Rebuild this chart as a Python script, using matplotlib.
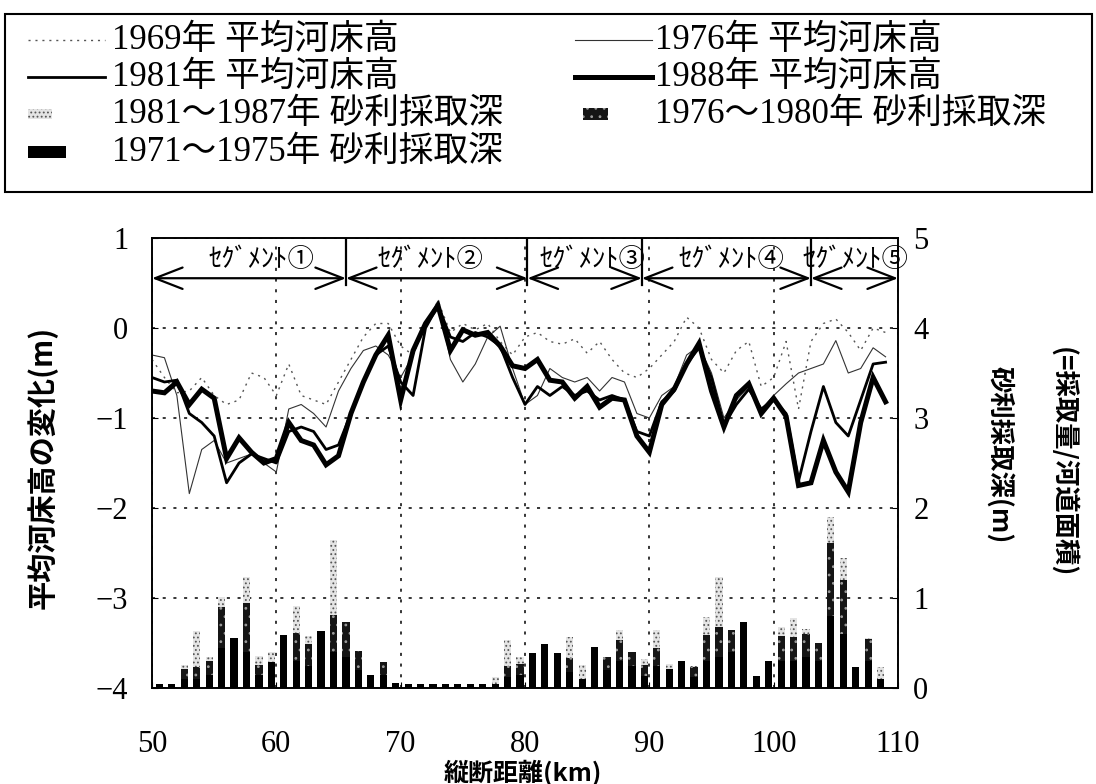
import numpy as np
import matplotlib
matplotlib.use("Agg")
import matplotlib.pyplot as plt
from matplotlib.lines import Line2D
from matplotlib.patches import Rectangle

plt.rcParams['font.family'] = ['Liberation Serif', 'Noto Sans CJK JP']
plt.rcParams['hatch.linewidth'] = 0.8

# ---- data ----
km = np.arange(50, 110)  # 1 km survey points, 50 .. 109

bed_1969 = [-0.35, -0.55, -0.72, -0.70, -0.55, -0.75, -0.85, -0.80, -0.50, -0.55,
            -0.75, -0.40, -0.75, -0.80, -0.85, -0.60, -0.35, -0.10, 0.05, 0.05,
            -0.20, -0.30, 0.05, 0.30, -0.05, 0.05, -0.02, 0.05, -0.15, -0.30,
            -0.10, -0.05, -0.15, -0.18, -0.12, -0.28, -0.15, -0.35, -0.50, -0.55,
            -0.45, -0.30, -0.15, 0.12, 0.00, -0.35, -0.50, -0.25, -0.15, -0.65,
            -0.55, -0.15, -0.90, -0.15, 0.05, 0.10, -0.05, -0.25, 0.00, -0.05]
bed_1976 = [-0.30, -0.33, -0.75, -1.84, -1.35, -1.25, -1.50, -1.45, -1.40, -1.50,
            -1.60, -0.90, -0.85, -0.95, -1.10, -0.70, -0.45, -0.25, -0.20, -0.30,
            -0.55, -0.30, 0.05, 0.30, -0.35, -0.60, -0.40, -0.10, 0.02, -0.45,
            -0.85, -0.75, -0.45, -0.55, -0.60, -0.55, -0.70, -0.55, -0.60, -0.95,
            -1.00, -0.75, -0.65, -0.30, -0.20, -0.50, -1.00, -0.80, -0.65, -0.90,
            -0.75, -0.62, -0.50, -0.45, -0.40, -0.14, -0.50, -0.45, -0.22, -0.32]
bed_1981 = [-0.55, -0.60, -0.58, -0.95, -1.05, -1.20, -1.72, -1.50, -1.40, -1.45,
            -1.50, -1.15, -1.10, -1.15, -1.35, -1.30, -0.95, -0.60, -0.30, -0.20,
            -0.60, -0.75, 0.00, 0.25, -0.10, -0.15, -0.05, -0.10, -0.20, -0.55,
            -0.85, -0.65, -0.75, -0.65, -0.75, -0.70, -0.80, -0.75, -0.80, -1.15,
            -1.20, -0.82, -0.70, -0.40, -0.22, -0.55, -1.08, -0.85, -0.68, -0.90,
            -0.80, -0.95, -1.70, -1.15, -0.65, -1.05, -1.20, -0.80, -0.40, -0.38]
bed_1988 = [-0.70, -0.72, -0.60, -0.85, -0.68, -0.78, -1.45, -1.22, -1.38, -1.50,
            -1.45, -1.05, -1.25, -1.30, -1.52, -1.42, -0.95, -0.60, -0.30, -0.08,
            -0.80, -0.25, 0.05, 0.25, -0.25, -0.02, -0.08, -0.05, -0.20, -0.42,
            -0.45, -0.35, -0.58, -0.60, -0.78, -0.65, -0.88, -0.78, -0.80, -1.20,
            -1.38, -0.85, -0.68, -0.40, -0.17, -0.70, -1.10, -0.75, -0.62, -0.95,
            -0.78, -0.98, -1.75, -1.72, -1.25, -1.60, -1.82, -1.05, -0.55, -0.82]

# gravel mining depth (m) per 1 km reach
bar_km = np.arange(50.6, 109.0, 1.0)
dig_7175 = [0.04, 0.04, 0.10, 0.10, 0.15, 0.45, 0.56, 0.40, 0.15, 0.29,
            0.59, 0.30, 0.25, 0.63, 0.40, 0.35, 0.20, 0.15, 0.15, 0.06,
            0.05, 0.04, 0.04, 0.04, 0.04, 0.04, 0.04, 0.045, 0.12, 0.15,
            0.39, 0.49, 0.39, 0.18, 0.10, 0.46, 0.20, 0.30, 0.25, 0.13,
            0.25, 0.21, 0.30, 0.12, 0.30, 0.35, 0.40, 0.73, 0.13, 0.30,
            0.30, 0.30, 0.35, 0.30, 0.80, 0.60, 0.23, 0.30, 0.10]
dig_7680 = [0.00, 0.00, 0.11, 0.13, 0.15, 0.45, 0.00, 0.55, 0.11, 0.00,
            0.00, 0.31, 0.24, 0.00, 0.41, 0.38, 0.21, 0.00, 0.14, 0.00,
            0.00, 0.00, 0.00, 0.00, 0.00, 0.00, 0.00, 0.00, 0.13, 0.12,
            0.00, 0.00, 0.00, 0.15, 0.00, 0.00, 0.14, 0.23, 0.15, 0.13,
            0.20, 0.00, 0.00, 0.11, 0.29, 0.33, 0.25, 0.00, 0.00, 0.00,
            0.28, 0.27, 0.25, 0.20, 0.81, 0.60, 0.00, 0.24, 0.00]
dig_8187 = [0.00, 0.00, 0.05, 0.40, 0.04, 0.11, 0.00, 0.28, 0.10, 0.11,
            0.00, 0.30, 0.09, 0.00, 0.83, 0.00, 0.00, 0.00, 0.00, 0.00,
            0.00, 0.00, 0.00, 0.00, 0.00, 0.00, 0.00, 0.08, 0.28, 0.07,
            0.00, 0.00, 0.00, 0.24, 0.16, 0.00, 0.00, 0.11, 0.00, 0.06,
            0.19, 0.06, 0.00, 0.02, 0.20, 0.55, 0.00, 0.00, 0.00, 0.00,
            0.10, 0.21, 0.06, 0.00, 0.29, 0.24, 0.00, 0.02, 0.13]

# segments
seg_bounds = [50, 65.6, 80.2, 89.4, 103.0, 110]
seg_labels = ['ｾｸﾞﾒﾝﾄ①', 'ｾｸﾞﾒﾝﾄ②', 'ｾｸﾞﾒﾝﾄ③', 'ｾｸﾞﾒﾝﾄ④', 'ｾｸﾞﾒﾝﾄ⑤']
seg_label_x = [58.8, 72.4, 85.4, 96.6, 106.6]

legend_line_labels = ['1969年 平均河床高', '1976年 平均河床高', '1981年 平均河床高', '1988年 平均河床高']
legend_bar_labels = ['1981〜1987年 砂利採取深', '1976〜1980年 砂利採取深', '1971〜1975年 砂利採取深']

W, H = 1096, 784
fig = plt.figure(figsize=(W / 100, H / 100), dpi=100)


def fx(x):
    return x / W


def fy(y):
    return 1 - y / H


ax = fig.add_axes([fx(152), fy(688), fx(898) - fx(152), fy(238) - fy(688)])
ax2 = ax.twinx()

# styles
st_1969 = dict(color='#555555', lw=1.0, ls=(0, (1.5, 3.5)))
st_1976 = dict(color='#333333', lw=0.8, ls='-')
st_1981 = dict(color='black', lw=2.0, ls='-')
st_1988 = dict(color='black', lw=3.6, ls='-')
bar_7175 = dict(facecolor='black', edgecolor='black', linewidth=0)
bar_7680 = dict(facecolor='#151515', edgecolor='#9a9a9a', hatch='..', linewidth=0)
bar_8187 = dict(facecolor='#e4e4e4', edgecolor='#555555', hatch='....', linewidth=0)

# bars (right axis)
d1 = np.array(dig_7175)
d2 = np.array(dig_7680)
d3 = np.array(dig_8187)
ax2.bar(bar_km, d1, width=0.58, **bar_7175)
ax2.bar(bar_km, d2, bottom=d1, width=0.58, **bar_7680)
ax2.bar(bar_km, d3, bottom=d1 + d2, width=0.58, **bar_8187)
ax2.set_ylim(0, 5)
ax2.set_yticks([0, 1, 2, 3, 4, 5])

# bed level lines (left axis)
ax.plot(km, bed_1969, **st_1969, zorder=3)
ax.plot(km, bed_1976, **st_1976, zorder=3)
ax.plot(km, bed_1981, **st_1981, zorder=4)
ax.plot(km, bed_1988, **st_1988, zorder=5, solid_joinstyle='miter')

ax.set_xlim(50, 110)
ax.set_ylim(-4, 1)
ax.set_xticks([50, 60, 70, 80, 90, 100, 110])
ax.set_yticks([-4, -3, -2, -1, 0, 1])
ax.grid(True, color='black', lw=1.1, ls=(0, (2, 5)))
ax.set_axisbelow(True)

ax.tick_params(axis='x', labelsize=22, pad=30, direction='in', length=4)
ax.tick_params(axis='y', labelsize=22, pad=17, direction='in', length=4)
ax2.tick_params(axis='y', labelsize=22, pad=11, direction='in', length=4)
for a in (ax, ax2):
    for s in a.spines.values():
        s.set_linewidth(1.2)

# segment arrows
arrow_y = 0.553
for i in range(len(seg_labels)):
    ax.annotate('', xy=(seg_bounds[i + 1], arrow_y), xytext=(seg_bounds[i], arrow_y),
                arrowprops=dict(arrowstyle='<->,head_length=0.9,head_width=0.35',
                                lw=1.6, color='black', mutation_scale=22,
                                shrinkA=0, shrinkB=0), zorder=6)
    ax.text(seg_label_x[i], 0.765, seg_labels[i], family=['Noto Sans CJK JP'],
            fontsize=19, ha='center', va='center', zorder=6)
for b in seg_bounds[1:-1]:
    ax.plot([b, b], [1.0, 0.475], color='black', lw=1.6, zorder=6)

# axis labels
cjk = ['Noto Sans CJK JP']
fig.text(fx(42), fy(467), '平均河床高の変化(m)', family=cjk, fontsize=21, weight='bold',
         rotation=90, ha='center', va='center')
fig.text(fx(1000), fy(455), '砂利採取深(m)', family=cjk, fontsize=19, weight='bold',
         rotation=270, ha='center', va='center')
fig.text(fx(1063), fy(462), '(=採取量/河道面積)', family=cjk, fontsize=19, weight='bold',
         rotation=270, ha='center', va='center')
fig.text(fx(523), fy(773), '縦断距離(km)', family=cjk, fontsize=18, weight='bold',
         ha='center', va='center')

# legend box drawn by hand to follow the original layout
fig.add_artist(Rectangle((fx(5), fy(192)), fx(1092) - fx(5), fy(14) - fy(192),
                         transform=fig.transFigure, fill=False, lw=1.5, color='black'))
leg_font = dict(family=['Liberation Serif', 'Noto Sans CJK JP'], fontsize=25, va='center', ha='left')

line_styles = [st_1969, st_1976, st_1981, st_1988]
line_pos = [(28, 40, 0), (575, 40, 1), (28, 77, 2), (575, 77, 3)]
for x0, yy, k in line_pos:
    fig.add_artist(Line2D([fx(x0), fx(x0 + 77)], [fy(yy), fy(yy)], transform=fig.transFigure,
                          **line_styles[k]))
    tx = 112 if x0 < 300 else 655
    fig.text(fx(tx), fy(yy), legend_line_labels[k], **leg_font)

bar_styles = [bar_8187, bar_7680, bar_7175]
bar_pos = [(28, 109, 24, 10, 112, 114), (583, 108, 25, 12, 655, 114), (28, 146, 38, 12, 112, 152)]
for k, (x0, y0, w, h, tx, ty) in enumerate(bar_pos):
    fig.add_artist(Rectangle((fx(x0), fy(y0 + h)), fx(w), fy(y0) - fy(y0 + h),
                             transform=fig.transFigure, **bar_styles[k]))
    fig.text(fx(tx), fy(ty), legend_bar_labels[k], **leg_font)

fig.savefig('out.png', dpi=100)
